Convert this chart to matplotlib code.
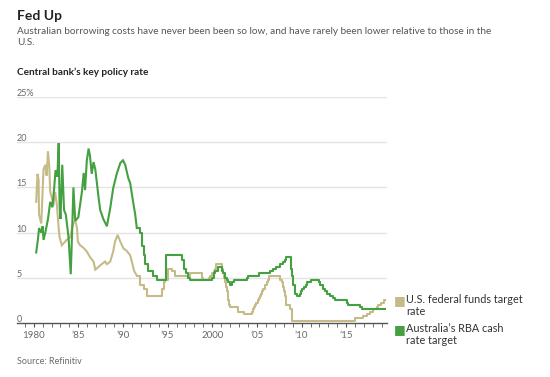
import matplotlib
matplotlib.use("Agg")
import matplotlib.pyplot as plt
from matplotlib.ticker import MultipleLocator

plt.rcParams['font.family'] = ['Lato', 'DejaVu Sans']

# US federal funds target rate (year, %)
us_years = [1980.28, 1980.43, 1980.55, 1980.6, 1980.85, 1981.1, 1981.3, 1981.45, 1981.6, 1981.75,
            1981.85, 1982.0, 1982.2, 1982.4, 1982.6, 1982.8, 1982.9, 1983.15, 1983.7, 1984.1,
            1984.3, 1984.45, 1984.65, 1984.85, 1984.95, 1985.2, 1985.6, 1985.95, 1986.3, 1986.7,
            1986.9, 1987.6, 1988.0, 1988.2, 1988.57, 1988.9, 1989.1, 1989.4, 1989.7, 1990.05,
            1990.4, 1990.8, 1991.0, 1991.25, 1991.55, 1991.9, 1992.3, 1992.7, 1994.2, 1994.35,
            1994.55, 1994.7, 1995.0, 1995.5, 1995.85, 1997.5, 1998.8, 1998.9, 1999.0, 1999.6,
            1999.75, 1999.95, 2000.15, 2000.3, 2000.45, 2001.1, 2001.2, 2001.3, 2001.4, 2001.5,
            2001.6, 2001.7, 2001.75, 2001.8, 2001.9, 2002.0, 2002.9, 2003.5, 2004.45, 2004.6,
            2004.7, 2004.8, 2004.95, 2005.1, 2005.2, 2005.35, 2005.45, 2005.6, 2005.7, 2005.85,
            2005.95, 2006.1, 2006.2, 2006.3, 2007.6, 2007.8, 2007.9, 2008.0, 2008.1, 2008.2,
            2008.3, 2008.7, 2008.9, 2016.0, 2016.9, 2017.3, 2017.7, 2018.0, 2018.4, 2018.6,
            2018.9, 2019.2, 2019.3]
us_rate = [13.4, 16.5, 15.8, 12.0, 11.0, 17.0, 17.5, 16.3, 19.0, 17.2,
           14.5, 14.0, 13.0, 14.5, 13.0, 10.5, 9.5, 8.6, 9.2, 9.5,
           10.5, 11.0, 11.4, 10.5, 9.0, 8.6, 8.3, 7.9, 7.3, 6.8,
           5.9, 6.5, 6.8, 6.5, 6.8, 7.9, 9.0, 9.75, 9.0, 8.25,
           8.0, 7.5, 6.75, 5.75, 5.25, 4.25, 3.75, 3.0, 3.0, 3.75,
           4.5, 4.75, 6.0, 5.75, 5.25, 5.5, 5.25, 5.0, 4.75, 5.0,
           5.25, 5.5, 5.75, 6.0, 6.5, 6.0, 5.5, 5.0, 4.5, 4.0,
           3.75, 3.5, 3.0, 2.5, 2.0, 1.75, 1.25, 1.0, 1.25, 1.5,
           1.75, 2.0, 2.25, 2.5, 2.75, 3.0, 3.25, 3.5, 3.75, 4.0,
           4.25, 4.5, 4.75, 5.25, 4.75, 4.5, 4.0, 3.5, 3.0, 2.25,
           2.0, 1.5, 0.25, 0.5, 0.75, 1.0, 1.25, 1.5, 1.75, 2.0,
           2.25, 2.5, 2.5]

# Australia's RBA cash rate target (year, %)
au_years = [1980.28, 1980.47, 1980.6, 1980.85, 1981.0, 1981.1, 1981.3, 1981.6, 1981.85, 1982.1,
            1982.3, 1982.45, 1982.65, 1982.8, 1982.9, 1983.0, 1983.2, 1983.4, 1983.6, 1983.9,
            1984.15, 1984.3, 1984.45, 1984.65, 1985.0, 1985.4, 1985.6, 1985.75, 1985.95, 1986.15,
            1986.3, 1986.5, 1986.7, 1986.9, 1987.1, 1987.25, 1987.45, 1987.8, 1988.2, 1988.57,
            1988.9, 1989.3, 1989.7, 1990.0, 1990.25, 1990.6, 1990.8, 1991.2, 1991.37, 1991.55,
            1991.9, 1992.1, 1992.3, 1992.5, 1992.8, 1993.4, 1993.8, 1994.8, 1996.6, 1996.8,
            1997.1, 1997.3, 1997.5, 1999.95, 2000.15, 2000.35, 2000.6, 2001.1, 2001.25, 2001.45,
            2001.6, 2001.8, 2002.0, 2002.2, 2002.4, 2003.9, 2004.0, 2005.2, 2006.5, 2006.8,
            2007.1, 2007.6, 2007.9, 2008.1, 2008.3, 2008.8, 2008.9, 2009.0, 2009.3, 2009.5,
            2009.85, 2009.95, 2010.05, 2010.3, 2010.45, 2010.6, 2011.0, 2011.9, 2012.1, 2012.45,
            2012.6, 2012.8, 2013.2, 2013.5, 2013.75, 2013.95, 2015.1, 2015.25, 2016.55, 2016.75,
            2019.3]
au_rate = [7.8, 9.2, 10.5, 10.0, 10.7, 9.2, 10.0, 11.5, 13.4, 12.8,
           15.0, 16.9, 16.2, 19.9, 13.0, 11.5, 17.5, 12.5, 12.0, 9.5,
           5.4, 10.0, 15.0, 11.3, 11.7, 14.5, 16.6, 14.7, 18.0, 19.3,
           18.5, 16.5, 17.8, 17.0, 15.3, 14.0, 12.5, 11.5, 10.7, 12.7,
           14.9, 16.5, 17.7, 18.0, 17.5, 16.0, 15.5, 13.0, 12.0, 10.5,
           10.0, 8.5, 7.5, 6.5, 5.75, 5.25, 4.75, 7.5, 7.0, 6.0,
           5.5, 5.0, 4.75, 5.0, 5.5, 5.75, 6.25, 5.75, 5.5, 5.0,
           4.75, 4.5, 4.25, 4.5, 4.75, 5.0, 5.25, 5.5, 5.75, 6.0,
           6.25, 6.5, 6.75, 7.0, 7.25, 6.0, 5.25, 4.25, 3.25, 3.0,
           3.25, 3.5, 3.75, 4.0, 4.25, 4.5, 4.75, 4.5, 4.25, 3.75,
           3.5, 3.25, 3.0, 2.75, 2.5, 2.5, 2.25, 2.0, 1.75, 1.5,
           1.5]

tick_years = [1980, 1985, 1990, 1995, 2000, 2005, 2010, 2015]
tick_labels = ["1980", "\u201985", "\u201990", "\u201995", "2000", "\u201905", "\u201910", "\u201915"]
y_ticks = [0, 5, 10, 15, 20, 25]
y_labels = ["0", "5", "10", "15", "20", "25%"]
series_labels = ["U.S. federal funds target\nrate", "Australia\u2019s RBA cash\nrate target"]

tan = "#c6bb88"
green = "#44a040"
grey = "#6a6a6a"

fig = plt.figure(figsize=(5.5, 3.77), dpi=100)
ax = fig.add_axes([0.0304, 0.1432, 0.6738, 0.5995])

for y in y_ticks[1:]:
    ax.axhline(y, color="#e3e3e3", lw=1, zorder=0)


def draw(years, rate, color):
    # volatile early years drawn as a line, later policy steps as steps
    cut = next(i for i, yr in enumerate(years) if yr > 1991.5)
    ax.plot(years[:cut + 1], rate[:cut + 1], color=color, lw=1.5, solid_joinstyle="miter")
    ax.step(years[cut:], rate[cut:], where="post", color=color, lw=1.5)


draw(us_years, us_rate, tan)
draw(au_years, au_rate, green)

ax.set_xlim(1978.1, 2019.6)
ax.set_ylim(0, 25)

for s in ["top", "right", "left"]:
    ax.spines[s].set_visible(False)
ax.spines["bottom"].set_color("#555555")
ax.spines["bottom"].set_linewidth(1)

ax.set_yticks([])
for y, lab in zip(y_ticks, y_labels):
    ax.text(-0.001, y - 0.1, lab, transform=ax.get_yaxis_transform(), ha="left", va="bottom",
            fontsize=6.5, color=grey)

ax.set_xticks(tick_years)
ax.set_xticklabels(tick_labels, fontsize=7, color=grey)
ax.xaxis.set_minor_locator(MultipleLocator(1))
ax.tick_params(axis="x", which="both", direction="out", length=3, color="#555555", pad=2.5)

# legend
for i, (lab, col) in enumerate(zip(series_labels, [tan, green])):
    yy = 1 - (300 + i * 29) / 377
    fig.text(0.717, yy, "\u25a0", color=col, fontsize=9, va="center", ha="left")
    fig.text(0.738, yy + 0.016, lab, color="#333333", fontsize=7.8, va="top", ha="left",
             linespacing=1.15)

fig.text(0.031, 0.958, "Fed Up", fontsize=10, fontweight="bold", color="#222222", va="center")
fig.text(0.031, 0.928, "Australian borrowing costs have never been been so low, and have rarely been lower relative to those in the\nU.S.",
         fontsize=7.2, color="#555555", va="top", linespacing=1.3)
fig.text(0.031, 0.807, "Central bank\u2019s key policy rate", fontsize=7.2, fontweight="bold",
         color="#222222", va="center")
fig.text(0.031, 0.04, "Source: Refinitiv", fontsize=6.5, color=grey, va="center")

fig.savefig("out.png", dpi=100)
